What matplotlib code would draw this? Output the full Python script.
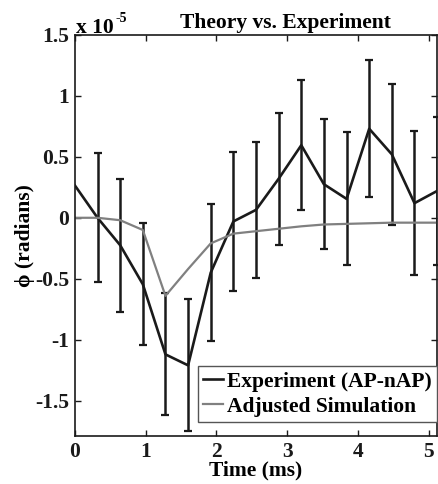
import matplotlib
matplotlib.use('Agg')
import matplotlib.pyplot as plt

plt.rcParams['font.family'] = ['Liberation Serif', 'DejaVu Serif']
plt.rcParams['font.weight'] = 'bold'

# Данные (phi в единицах 1e-5 рад)
time_ms = [0.0, 0.32, 0.64, 0.96, 1.28, 1.60, 1.92, 2.24, 2.56, 2.88,
           3.20, 3.52, 3.84, 4.16, 4.48, 4.80, 5.12]
exp_phi = [0.265, 0.0, -0.225, -0.545, -1.12, -1.21, -0.45, -0.03, 0.065, 0.32,
           0.595, 0.275, 0.155, 0.73, 0.52, 0.12, 0.22]
exp_err = [0.0, 0.53, 0.545, 0.50, 0.50, 0.54, 0.56, 0.57, 0.555, 0.54,
           0.535, 0.535, 0.545, 0.56, 0.58, 0.59, 0.61]
sim_phi = [0.0, 0.0, -0.02, -0.10, -0.64, -0.42, -0.21, -0.13, -0.11, -0.09,
           -0.07, -0.055, -0.05, -0.045, -0.04, -0.04, -0.04]

fs = 15.5

fig = plt.figure(figsize=(4.38, 4.84), dpi=100)
ax = fig.add_axes([0.171, 0.099, 0.827, 0.829])

# Эксперимент с погрешностями
ax.errorbar(time_ms[1:], exp_phi[1:], yerr=exp_err[1:], fmt='none',
            ecolor='#1a1a1a', elinewidth=1.8, capsize=3, capthick=1.6)
ax.plot(time_ms, exp_phi, color='#1a1a1a', linewidth=1.9,
        label='Experiment (AP-nAP)')
# Симуляция
ax.plot(time_ms, sim_phi, color='#808080', linewidth=1.6,
        label='Adjusted Simulation')

ax.set_xlim(0, 5.12)
ax.set_ylim(-1.79, 1.5)
ax.set_xticks([0, 1, 2, 3, 4, 5])
ax.set_yticks([-1.5, -1, -0.5, 0, 0.5, 1, 1.5])
ax.set_yticklabels(['-1.5', '-1', '-0.5', '0', '0.5', '1', '1.5'])
ax.tick_params(direction='in', top=True, right=True, length=4,
               labelsize=fs, width=1, colors='#1a1a1a', pad=4)
for s in ax.spines.values():
    s.set_color('#1a1a1a')
    s.set_linewidth(1.2)

ax.set_xlabel('Time (ms)', fontsize=fs, fontweight='bold', labelpad=-1)
ax.set_ylabel('ϕ (radians)', fontsize=fs, fontweight='bold', labelpad=0)
fig.text(285 / 438, 1 - 28 / 484, 'Theory vs. Experiment', fontsize=fs,
         fontweight='bold', ha='center', va='baseline')
fig.text(76 / 438, 1 - 33 / 484, 'x 10', fontsize=fs, fontweight='bold',
         ha='left', va='baseline')
fig.text(115 / 438, 1 - 22 / 484, '-5', fontsize=10, fontweight='bold',
         ha='left', va='baseline')

leg = ax.legend(loc='lower right', bbox_to_anchor=(1.0, 0.035),
                borderaxespad=0, fontsize=fs, handlelength=0.9,
                handletextpad=0.2, labelspacing=0.22, borderpad=0.25,
                fancybox=False, framealpha=1)
leg.get_frame().set_edgecolor('#555555')
leg.get_frame().set_linewidth(1.0)

fig.savefig('out.png', dpi=100)
